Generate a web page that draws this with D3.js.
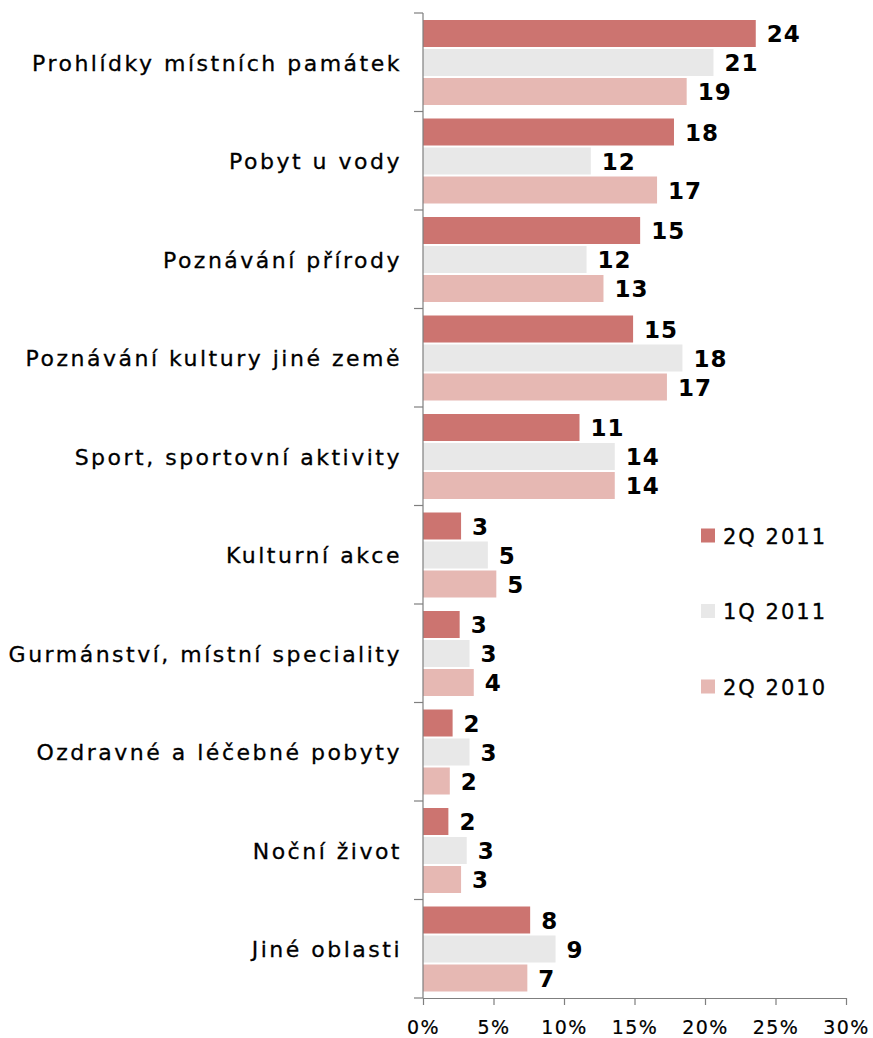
<!DOCTYPE html>
<html>
<head>
<meta charset="utf-8">
<script src="https://cdn.jsdelivr.net/npm/d3@7"></script>
<style>
  html, body { margin: 0; padding: 0; background: #fff; }
  svg { display: block; font-family: "DejaVu Sans", Verdana, sans-serif; }
</style>
</head>
<body>
<svg id="chart" width="873" height="1038"></svg>
<script>
const categories = [
  "Prohlídky místních památek",
  "Pobyt u vody",
  "Poznávání přírody",
  "Poznávání kultury jiné země",
  "Sport, sportovní aktivity",
  "Kulturní akce",
  "Gurmánství, místní speciality",
  "Ozdravné a léčebné pobyty",
  "Noční život",
  "Jiné oblasti"
];
const seriesNames = ["2Q 2011", "1Q 2011", "2Q 2010"];
const values2Q2011 = [23.6, 17.8, 15.4, 14.9, 11.1, 2.7, 2.6, 2.1, 1.8, 7.6];
const values1Q2011 = [20.6, 11.9, 11.6, 18.4, 13.6, 4.6, 3.3, 3.3, 3.1, 9.4];
const values2Q2010 = [18.7, 16.6, 12.8, 17.3, 13.6, 5.2, 3.6, 1.9, 2.7, 7.4];
const xTicks = [0, 5, 10, 15, 20, 25, 30];
const colors = ["#CC7470", "#E8E8E8", "#E6B8B3"];

const seriesValues = [values2Q2011, values1Q2011, values2Q2010];
const svg = d3.select("#chart");

const x = d3.scaleLinear().domain([0, 30]).range([423, 846]);
const y = d3.scaleBand().domain(categories).range([13, 998]).padding(0);
const ySub = d3.scaleBand().domain(seriesNames).range([7, 92]).paddingInner(2 / 29).paddingOuter(0);
const color = d3.scaleOrdinal().domain(seriesNames).range(colors);

// bars
const groups = svg.append("g").selectAll("g")
  .data(categories)
  .join("g")
  .attr("transform", c => `translate(0,${y(c)})`);

groups.selectAll("rect")
  .data((c, i) => seriesNames.map((s, j) => ({ s, v: seriesValues[j][i] })))
  .join("rect")
  .attr("x", x(0))
  .attr("y", d => ySub(d.s))
  .attr("width", d => x(d.v) - x(0))
  .attr("height", ySub.bandwidth())
  .attr("fill", d => color(d.s));

groups.selectAll("text.val")
  .data((c, i) => seriesNames.map((s, j) => ({ s, v: seriesValues[j][i] })))
  .join("text")
  .attr("class", "val")
  .attr("x", d => x(d.v) + 11)
  .attr("y", d => ySub(d.s) + ySub.bandwidth() / 2)
  .attr("dy", "0.38em")
  .attr("font-size", 23)
  .attr("font-weight", "bold")
  .attr("letter-spacing", "1px")
  .attr("fill", "#000")
  .text(d => Math.round(d.v));

// category labels
svg.append("g").selectAll("text")
  .data(categories)
  .join("text")
  .attr("x", 402)
  .attr("y", c => y(c) + y.bandwidth() / 2)
  .attr("dy", "0.38em")
  .attr("text-anchor", "end")
  .attr("font-size", 22)
  .attr("letter-spacing", "2.5px")
  .attr("fill", "#000")
  .attr("stroke", "#000")
  .attr("stroke-width", 0.3)
  .text(c => c);

// y axis line and boundary ticks
const axisColor = "#7f7f7f";
const bounds = categories.map(c => y(c)).concat([y.range()[1]]);
svg.append("line")
  .attr("x1", x(0)).attr("x2", x(0))
  .attr("y1", y.range()[0]).attr("y2", y.range()[1])
  .attr("stroke", axisColor).attr("stroke-width", 1.2);
svg.append("g").selectAll("line")
  .data(bounds)
  .join("line")
  .attr("x1", x(0) - 9).attr("x2", x(0))
  .attr("y1", d => d).attr("y2", d => d)
  .attr("stroke", axisColor).attr("stroke-width", 1.2);

// x axis
const xAxis = d3.axisBottom(x)
  .tickValues(xTicks)
  .tickSize(7)
  .tickSizeOuter(0)
  .tickPadding(16)
  .tickFormat(d => d + "%");
const gx = svg.append("g")
  .attr("transform", `translate(0,${y.range()[1]})`)
  .call(xAxis);
gx.select(".domain").attr("stroke", axisColor).attr("stroke-width", 1.2);
gx.selectAll(".tick line").attr("stroke", axisColor).attr("stroke-width", 1.2);
gx.selectAll(".tick text")
  .attr("font-family", "DejaVu Sans, Verdana, sans-serif")
  .attr("font-size", 19)
  .attr("letter-spacing", "1.5px")
  .attr("fill", "#000")
  .attr("stroke", "#000")
  .attr("stroke-width", 0.2);

// legend
const legend = svg.append("g").selectAll("g")
  .data(seriesNames)
  .join("g")
  .attr("transform", (s, i) => `translate(701,${535.5 + i * 75.5})`);
legend.append("rect")
  .attr("x", 0).attr("y", -7)
  .attr("width", 14).attr("height", 14)
  .attr("fill", s => color(s));
legend.append("text")
  .attr("x", 22)
  .attr("y", 0)
  .attr("dy", "0.4em")
  .attr("font-size", 21)
  .attr("letter-spacing", "2px")
  .attr("fill", "#000")
  .attr("stroke", "#000")
  .attr("stroke-width", 0.3)
  .text(s => s);
</script>
</body>
</html>
